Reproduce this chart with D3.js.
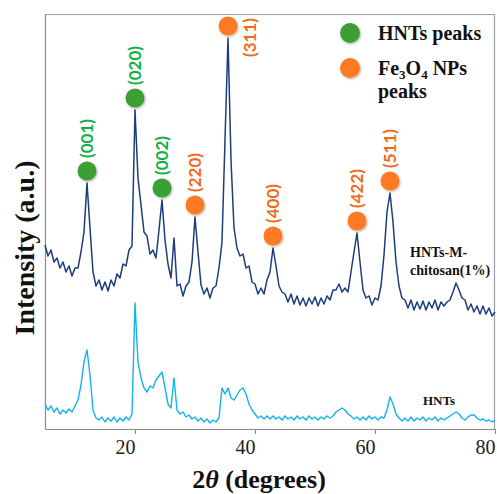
<!DOCTYPE html>
<html>
<head>
<meta charset="utf-8">
<script src="https://cdn.jsdelivr.net/npm/d3@7"></script>
<style>
    body { margin: 0; background: #ffffff; }
</style>
</head>
<body>
<div id="chart"></div>
<script>
// intensity (a.u.) read every 0.5 degrees from 2theta = 5 to 80
const hnt_m_chitosan = [
    184,173,179,167,171,161,167,157,163,153,
    161,161,177,197,246,201,157,143,149,139,
    147,138,149,143,155,151,165,163,179,183,
    319,251,224,197,193,175,179,171,199,229,
    189,165,151,191,143,145,133,143,147,167,
    212,177,144,135,141,131,141,143,161,187,
    289,391,269,201,181,173,175,161,163,147,
    145,135,141,135,149,157,181,163,143,137,
    135,127,135,125,133,124,131,123,131,125,
    132,123,131,125,133,129,139,139,145,137,
    141,137,157,177,196,167,139,131,133,124,
    131,129,143,174,217,236,207,167,143,131,
    129,121,129,119,127,120,128,119,127,121,
    129,119,127,123,127,129,137,146,139,131,
    129,119,125,117,123,115,123,115,121,113,
    117
];
const hnts = [
    25,19,23,17,21,15,19,16,20,17,
    23,29,44,67,79,54,19,11,9,12,
    7,11,8,12,7,11,8,12,9,15,
    126,67,51,41,37,43,41,49,53,57,
    41,25,21,51,19,15,17,12,14,10,
    12,8,11,7,10,6,9,7,11,41,
    35,41,31,29,34,39,41,35,25,19,
    15,11,13,10,13,10,13,10,12,9,
    13,10,12,9,13,10,12,9,13,10,
    12,9,12,10,13,11,13,17,19,21,
    19,15,13,10,12,9,12,9,13,10,
    12,9,12,11,19,32,25,15,11,8,
    11,8,12,8,11,9,12,8,11,9,
    12,8,11,9,11,13,15,17,15,11,
    9,12,14,14,11,9,10,8,9,7,
    9
];
const angle_start = 5;
const angle_step = 0.5;
const x_ticks = [20, 40, 60, 80];

const peak_labels = ["(001)", "(020)", "(002)", "(220)", "(311)", "(400)", "(422)", "(511)"];
const peak_angles = [12, 20, 24.5, 30, 35.5, 43, 57, 62.5];
const peak_phases = ["hnt", "hnt", "hnt", "fe", "fe", "fe", "fe", "fe"];

class XRD_Plot {
    constructor(parent_element) {
        this.parent_element = parent_element;
        this.marker_colors = {hnt: "#3a9f36", fe: "#ff7a21"};
        this.label_colors = {hnt: "#14ad48", fe: "#f06a1c"};
        this.serif = "'Liberation Serif', 'Times New Roman', serif";
        this.initVis();
    }

    initVis() {
        this.width = 497;
        this.height = 494;
        this.margin = {top: 14, right: 2, bottom: 65, left: 45};

        this.svg = d3.select("#" + this.parent_element)
            .append("svg")
            .attr("width", this.width)
            .attr("height", this.height);

        // soft shadow for the circles
        const filter = this.svg.append("defs").append("filter")
            .attr("id", "shadow")
            .attr("x", "-50%").attr("y", "-50%")
            .attr("width", "200%").attr("height", "200%");
        filter.append("feDropShadow")
            .attr("dx", 1).attr("dy", 1.2)
            .attr("stdDeviation", 1)
            .attr("flood-color", "#000")
            .attr("flood-opacity", 0.3);

        // scales
        this.x = d3.scaleLinear()
            .domain([5, 80])
            .range([this.margin.left, this.width - this.margin.right]);
        this.y = d3.scaleLinear()
            .domain([0, 415])
            .range([this.height - this.margin.bottom, this.margin.top]);

        this.drawVis();
    }

    drawVis() {
        const x = this.x, y = this.y;
        const x0 = x.range()[0], x1 = x.range()[1];
        const y0 = y.range()[0], y1 = y.range()[1];

        // frame (top and right)
        this.svg.append("path")
            .attr("d", `M${x0},${y1 + 0.5}H${x1 - 0.5}V${y0}`)
            .attr("fill", "none")
            .attr("stroke", "#a0a0a0")
            .attr("stroke-width", 1.2);

        // left axis line, no ticks
        this.svg.append("line")
            .attr("x1", x0 + 0.5).attr("x2", x0 + 0.5)
            .attr("y1", y1).attr("y2", y0)
            .attr("stroke", "#8a8a8a")
            .attr("stroke-width", 1.2);

        // bottom axis (labels sit a little left of their ticks, as in the original)
        const x_axis = this.svg.append("g")
            .attr("transform", `translate(0,${y0})`)
            .call(d3.axisBottom(x).tickValues(x_ticks).tickSize(5).tickSizeOuter(0).tickPadding(6));
        x_axis.select(".domain").attr("stroke", "#8a8a8a").attr("stroke-width", 1.2);
        x_axis.selectAll(".tick line").attr("stroke", "#8a8a8a");
        x_axis.selectAll("text")
            .attr("x", -10)
            .attr("font-family", this.serif)
            .attr("font-size", "20px")
            .attr("fill", "#222");

        // axis titles
        const x_title = this.svg.append("text")
            .attr("x", 259)
            .attr("y", 488)
            .attr("text-anchor", "middle")
            .attr("font-family", this.serif)
            .attr("font-weight", "bold")
            .attr("font-size", "26px")
            .attr("fill", "#111");
        x_title.append("tspan").text("2");
        x_title.append("tspan").attr("font-style", "italic").text("θ");
        x_title.append("tspan").text(" (degrees)");

        this.svg.append("text")
            .attr("transform", "translate(34,248) rotate(-90)")
            .attr("text-anchor", "middle")
            .attr("font-family", this.serif)
            .attr("font-weight", "bold")
            .attr("font-size", "28px")
            .attr("fill", "#111")
            .text("Intensity (a.u.)");

        // traces
        const line = d3.line()
            .x((d, i) => x(angle_start + i * angle_step))
            .y(d => y(d));

        this.svg.append("path")
            .datum(hnts)
            .attr("d", line)
            .attr("fill", "none")
            .attr("stroke", "#12b3ec")
            .attr("stroke-width", 1.4)
            .attr("stroke-linejoin", "round");

        this.svg.append("path")
            .datum(hnt_m_chitosan)
            .attr("d", line)
            .attr("fill", "none")
            .attr("stroke", "#1d3c7c")
            .attr("stroke-width", 1.5)
            .attr("stroke-linejoin", "round");

        // trace names
        const name_top = this.svg.append("text")
            .attr("font-family", this.serif)
            .attr("font-weight", "bold")
            .attr("font-size", "14px")
            .attr("fill", "#111");
        name_top.append("tspan").attr("x", 410).attr("y", 257).text("HNTs-M-");
        name_top.append("tspan").attr("x", 410).attr("y", 275).text("chitosan(1%)");

        this.svg.append("text")
            .attr("x", 423)
            .attr("y", 405)
            .attr("font-family", this.serif)
            .attr("font-weight", "bold")
            .attr("font-size", "13px")
            .attr("fill", "#111")
            .text("HNTs");

        // peak markers
        const peaks = peak_labels.map((label, i) => {
            const idx = Math.round((peak_angles[i] - angle_start) / angle_step);
            return {
                label: label,
                phase: peak_phases[i],
                cx: x(peak_angles[i]),
                cy: y(hnt_m_chitosan[idx]) - 12
            };
        });

        this.svg.append("g")
            .selectAll("circle")
            .data(peaks)
            .join("circle")
            .attr("cx", d => d.cx)
            .attr("cy", d => d.cy)
            .attr("r", 9.5)
            .attr("fill", d => this.marker_colors[d.phase])
            .attr("filter", "url(#shadow)");

        // peak labels, the tallest one sits beside its marker
        this.svg.append("g")
            .selectAll("text")
            .data(peaks)
            .join("text")
            .attr("transform", d => d.label === "(311)"
                ? `translate(${d.cx + 22},${d.cy - 8}) rotate(-90)`
                : `translate(${d.cx + 0.5},${d.cy - 13}) rotate(-90)`)
            .attr("text-anchor", d => d.label === "(311)" ? "end" : "start")
            .attr("dy", "0.35em")
            .attr("font-family", "Lato, 'Open Sans', sans-serif")
            .attr("font-weight", "bold")
            .attr("font-size", "17px")
            .attr("fill", d => this.label_colors[d.phase])
            .text(d => d.label);

        // legend
        const legend = this.svg.append("g").attr("class", "legend");
        legend.selectAll("circle")
            .data(["hnt", "fe"])
            .join("circle")
            .attr("cx", 350)
            .attr("cy", (d, i) => 33 + i * 35)
            .attr("r", 10)
            .attr("fill", d => this.marker_colors[d])
            .attr("filter", "url(#shadow)");

        const legend_text = legend.append("text")
            .attr("font-family", this.serif)
            .attr("font-weight", "bold")
            .attr("font-size", "20px")
            .attr("fill", "#111");
        legend_text.append("tspan").attr("x", 378).attr("y", 40).text("HNTs peaks");
        const fe_line = legend_text.append("tspan").attr("x", 378).attr("y", 75);
        fe_line.append("tspan").text("Fe");
        fe_line.append("tspan").attr("font-size", "13px").attr("baseline-shift", "-4").text("3");
        fe_line.append("tspan").text("O");
        fe_line.append("tspan").attr("font-size", "13px").attr("baseline-shift", "-4").text("4");
        fe_line.append("tspan").text(" NPs");
        legend_text.append("tspan").attr("x", 378).attr("y", 98).text("peaks");
    }
}

new XRD_Plot("chart");
</script>
</body>
</html>
